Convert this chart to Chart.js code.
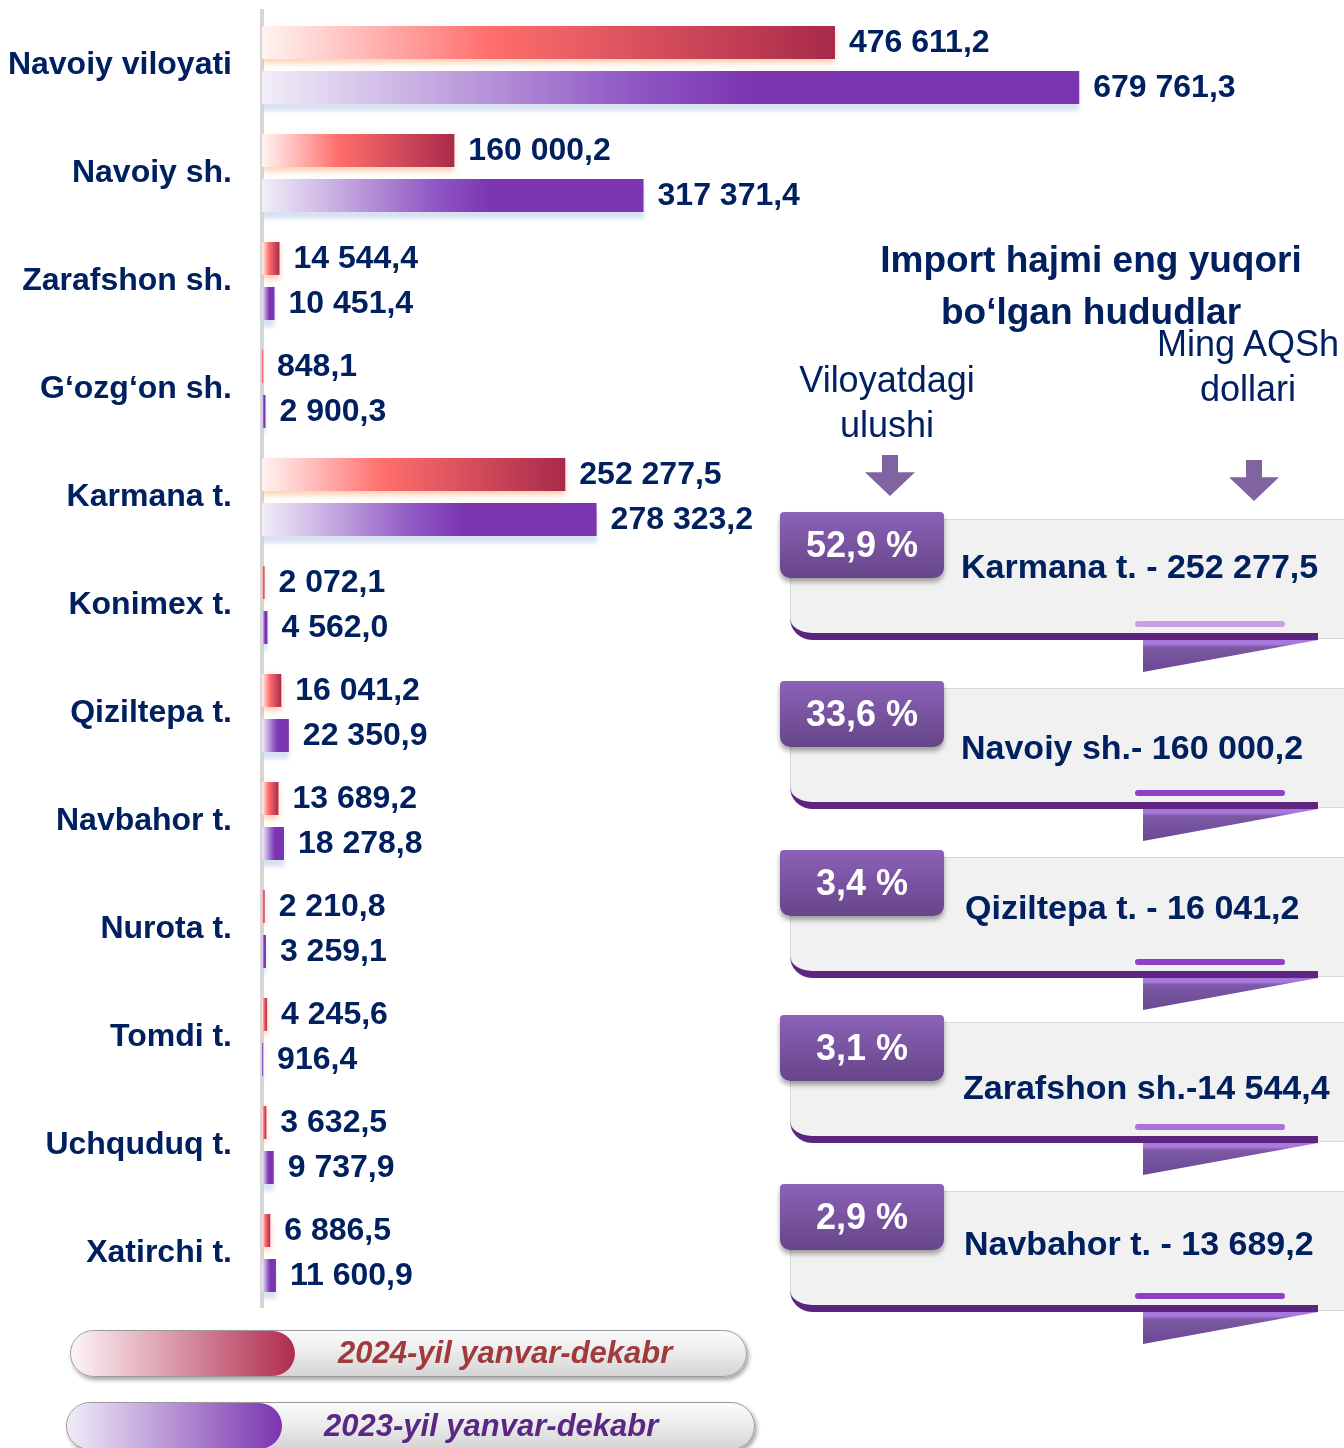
<!DOCTYPE html>
<html>
<head>
<meta charset="utf-8">
<title>Import hajmi</title>
<script src="https://cdn.jsdelivr.net/npm/chart.js@4.4.1/dist/chart.umd.min.js"></script>
<style>
  body { margin: 0; background: #fff; font-family: "Liberation Sans", Arial, sans-serif; }
  #wrap { position: relative; width: 1344px; height: 1448px; overflow: hidden; }
  #importChart { position: absolute; left: 0; top: 0; }
  .abs { position: absolute; }
  .navy { color: #002060; }
  .title { left: 860px; top: 234px; width: 462px; text-align: center; font-weight: bold; font-size: 37px; line-height: 52px; }
  .sub { width: 210px; text-align: center; font-size: 36px; line-height: 45px; }
  .arrow { width: 50px; height: 41px; background: #8064a2;
           clip-path: polygon(34% 0, 66% 0, 66% 42%, 100% 42%, 50% 100%, 0 42%, 34% 42%); }
  .body { left: 790px; width: 600px; height: 120px; background: #f1f1f1; border: 1px solid #d9d9d9;
          border-radius: 0 26px 0 22px; box-sizing: border-box; }
  .base { left: 790px; width: 528px; height: 48px; border-bottom: 7px solid #5e2580;
          border-bottom-left-radius: 22px; box-sizing: border-box; }
  .pillLine { left: 1135px; width: 150px; height: 6px; border-radius: 3px; }
  .fold { left: 1143px; width: 175px; height: 32px;
          background: linear-gradient(to bottom, #a878dc 0, #a878dc 4px, #7d59a6 7px, #694891 100%);
          clip-path: polygon(0 0, 100% 0, 0 100%); }
  .tab { left: 780px; width: 164px; height: 66px; border-radius: 4px 4px 10px 10px;
         background: linear-gradient(to bottom, #8b62b8, #664588); box-shadow: 0 4px 5px rgba(0,0,0,.35);
         color: #fff; font-weight: bold; font-size: 36px; line-height: 66px; text-align: center; }
  .cardText { font-weight: bold; font-size: 34px; line-height: 40px; white-space: nowrap; color: #002060; }
  .pill { border-radius: 24px; border: 1.5px solid #9a9a9a; box-sizing: border-box; overflow: hidden;
          background: linear-gradient(to bottom, #fbfbfb 0%, #ececec 45%, #d4d4d4 100%);
          box-shadow: 2px 3px 4px rgba(0,0,0,.35); }
  .pill .fill { position: absolute; left: 0; top: 0; bottom: 0; border-radius: 24px; }
  .pill .txt { position: absolute; top: 0; font-weight: bold; font-style: italic; font-size: 31px; white-space: nowrap; }
</style>
</head>
<body>
<div id="wrap">
  <canvas id="importChart" width="1344" height="1448"></canvas>

  <div class="abs title navy">Import hajmi eng yuqori<br>bo‘lgan hududlar</div>
  <div class="abs sub navy" style="left:782px;top:357px;">Viloyatdagi<br>ulushi</div>
  <div class="abs sub navy" style="left:1143px;top:321px;">Ming AQSh<br>dollari</div>
  <div class="abs arrow" style="left:865px;top:455px;"></div>
  <div class="abs arrow" style="left:1229px;top:460px;"></div>

  <div id="cards"></div>
  <div id="legend"></div>
</div>

<script>
// categories and yearly import values (ming AQSh dollari)
const categories = [
  'Navoiy viloyati', 'Navoiy sh.', 'Zarafshon sh.', 'G‘ozg‘on sh.', 'Karmana t.', 'Konimex t.',
  'Qiziltepa t.', 'Navbahor t.', 'Nurota t.', 'Tomdi t.', 'Uchquduq t.', 'Xatirchi t.'
];
const values2024 = [476611.2, 160000.2, 14544.4, 848.1, 252277.5, 2072.1, 16041.2, 13689.2, 2210.8, 4245.6, 3632.5, 6886.5];
const values2023 = [679761.3, 317371.4, 10451.4, 2900.3, 278323.2, 4562.0, 22350.9, 18278.8, 3259.1, 916.4, 9737.9, 11600.9];
const seriesNames = ['2024-yil yanvar-dekabr', '2023-yil yanvar-dekabr'];

// top regions panel
const topIndex = [4, 1, 6, 2, 7];
const topShares = [52.9, 33.6, 3.4, 3.1, 2.9];
const topLabels = ['Karmana t. - ', 'Navoiy sh.- ', 'Qiziltepa t. - ', 'Zarafshon sh.-', 'Navbahor t. - '];

const FONT = '"Liberation Sans", Arial, sans-serif';
const NAVY = '#002060';

function fmt(v) {
  const [i, d] = v.toFixed(1).split('.');
  return i.replace(/\B(?=(\d{3})+(?!\d))/g, ' ') + ',' + d;
}

// gradient along each bar, from axis to bar end
function barFill(stops, fallback) {
  return function (ctx) {
    const chart = ctx.chart;
    if (!chart.chartArea || ctx.type !== 'data') return fallback;
    const xs = chart.scales.x;
    const x0 = xs.getPixelForValue(0);
    const x1 = Math.max(xs.getPixelForValue(ctx.raw), x0 + 1);
    const g = chart.ctx.createLinearGradient(x0, 0, x1, 0);
    stops.forEach(([o, c]) => g.addColorStop(o, c));
    return g;
  };
}

const shadows = [
  { color: 'rgba(255,170,110,0.55)', blur: 6, dy: 4 },
  { color: 'rgba(190,205,232,0.6)', blur: 4, dy: 7 }
];

const barShadow = {
  id: 'barShadow',
  beforeDatasetDraw(chart, args) {
    const ctx = chart.ctx;
    const s = shadows[args.index];
    ctx.save();
    ctx.shadowColor = s.color;
    ctx.shadowBlur = s.blur;
    ctx.shadowOffsetY = s.dy;
  },
  afterDatasetDraw(chart) {
    chart.ctx.restore();
  }
};

const valueLabels = {
  id: 'valueLabels',
  afterDatasetsDraw(chart) {
    const ctx = chart.ctx;
    ctx.save();
    ctx.font = 'bold 32px ' + FONT;
    ctx.fillStyle = NAVY;
    ctx.textBaseline = 'middle';
    chart.data.datasets.forEach((ds, i) => {
      chart.getDatasetMeta(i).data.forEach((bar, j) => {
        ctx.fillText(fmt(ds.data[j]), bar.x + 14, bar.y + 1);
      });
    });
    ctx.restore();
  }
};

new Chart(document.getElementById('importChart'), {
  type: 'bar',
  data: {
    labels: categories,
    datasets: [{
      label: seriesNames[0],
      data: values2024,
      backgroundColor: barFill([[0, '#fff4f2'], [0.4, '#ff6e6c'], [1, '#a82a4a']], '#ff6e6c'),
      borderWidth: 0,
      categoryPercentage: 0.833,
      barPercentage: 0.733
    }, {
      label: seriesNames[1],
      data: values2023,
      backgroundColor: barFill([[0, '#f2eef8'], [0.45, '#9058c4'], [0.6, '#7b35b0'], [1, '#7b35b0']], '#7b35b0'),
      borderWidth: 0,
      categoryPercentage: 0.833,
      barPercentage: 0.733
    }]
  },
  options: {
    indexAxis: 'y',
    responsive: false,
    animation: false,
    layout: { padding: { top: 11, bottom: 141, left: 0, right: 0 } },
    plugins: { legend: { display: false }, tooltip: { enabled: false } },
    scales: {
      x: { display: false, min: 0, max: 900000 },
      y: {
        grid: { display: false, drawTicks: false },
        border: { display: true, color: '#d6d6d6', width: 4 },
        ticks: { color: NAVY, font: { family: FONT, size: 32, weight: 'bold' }, padding: 30 },
        afterFit(scale) {
          scale.width = 262;
          // labels sit inside their bands, no extra room needed above/below
          scale.paddingTop = 0;
          scale.paddingBottom = 0;
        }
      }
    }
  },
  plugins: [barShadow, valueLabels]
});

// ribbon cards on the right
const tabTops = [512, 681, 850, 1015, 1184];
const textY = [566, 747, 907, 1087, 1243];
const textX = [961, 961, 965, 963, 964];
const lineColors = ['#c8a0e4', '#8f3fc8', '#8f3fc8', '#b070dc', '#8f3fc8'];
const cards = document.getElementById('cards');
topIndex.forEach((idx, k) => {
  const T = tabTops[k];
  const share = topShares[k].toFixed(1).replace('.', ',') + ' %';
  cards.insertAdjacentHTML('beforeend', `
    <div class="abs body" style="top:${T + 7}px"></div>
    <div class="abs base" style="top:${T + 80}px"></div>
    <div class="abs pillLine" style="top:${T + 109}px;background:${lineColors[k]}"></div>
    <div class="abs fold" style="top:${T + 128}px"></div>
    <div class="abs tab" style="top:${T}px">${share}</div>
    <div class="abs cardText" style="left:${textX[k]}px;top:${textY[k] - 20}px">${topLabels[k]}${fmt(values2024[idx])}</div>
  `);
});

// legend pills
const legend = document.getElementById('legend');
const pills = [
  { left: 70, top: 1330, w: 677, h: 47, fillW: 224, grad: 'linear-gradient(to right, #fdf4f6, #b02c4e)', textX: 267, color: '#a03a3c' },
  { left: 66, top: 1402, w: 689, h: 48, fillW: 215, grad: 'linear-gradient(to right, #f0ecf7, #7b35b0)', textX: 257, color: '#5b2784' }
];
pills.forEach((p, i) => {
  legend.insertAdjacentHTML('beforeend', `
    <div class="abs pill" style="left:${p.left}px;top:${p.top}px;width:${p.w}px;height:${p.h}px">
      <div class="fill" style="width:${p.fillW}px;background:${p.grad}"></div>
      <div class="txt" style="left:${p.textX}px;line-height:${p.h - 3}px;color:${p.color}">${seriesNames[i]}</div>
    </div>
  `);
});
</script>
</body>
</html>
